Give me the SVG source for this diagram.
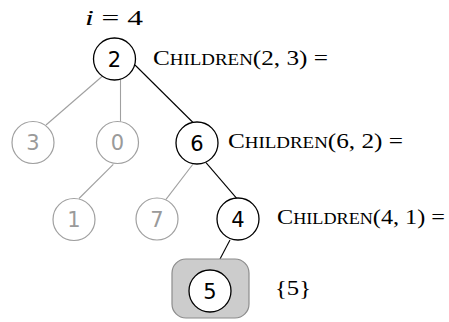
<svg xmlns="http://www.w3.org/2000/svg" width="449" height="322" viewBox="0 0 449 322">
<style>
.blk circle{fill:#fff;stroke:#000;stroke-width:1.3}
.gry circle{fill:#fff;stroke:#a0a0a0;stroke-width:1.2}
.num{font-family:"DejaVu Sans",sans-serif;font-size:21px;text-anchor:middle}
.blk .num{fill:#000}
.gry .num{fill:#9a9a9a}
.lbl{font-family:"Liberation Serif",serif;font-size:22px;fill:#000}
.sc{font-size:16.5px}
.eb{stroke:#000;stroke-width:1.1;fill:none}
.eg{stroke:#a0a0a0;stroke-width:1.1;fill:none}
</style>
<rect width="449" height="322" fill="#fff"/>
<g id="connectors">
<line class="eg" x1="102" y1="76.5" x2="46" y2="125"/>
<line class="eg" x1="120.5" y1="79.5" x2="120.5" y2="121.7"/>
<line class="eb" x1="135" y1="65" x2="193" y2="122.5"/>
<line class="eg" x1="113.3" y1="164.3" x2="79" y2="198.5"/>
<line class="eg" x1="192.7" y1="164.5" x2="166" y2="199.3"/>
<line class="eb" x1="206" y1="162.7" x2="236.7" y2="198.3"/>
<line class="eb" x1="230" y1="240" x2="220" y2="259"/>
</g>
<g id="node-2" class="blk"><circle cx="114.5" cy="59" r="21"/><text class="num" x="114.5" y="66.5">2</text></g>
<g id="node-3" class="gry"><circle cx="33" cy="142.5" r="21"/><text class="num" x="33" y="150">3</text></g>
<g id="node-0" class="gry"><circle cx="117.5" cy="142.5" r="21"/><text class="num" x="117.5" y="150">0</text></g>
<g id="node-6" class="blk"><circle cx="197" cy="143" r="21"/><text class="num" x="197" y="150.5">6</text></g>
<g id="node-1" class="gry"><circle cx="74" cy="219.5" r="21"/><text class="num" x="74" y="227">1</text></g>
<g id="node-7" class="gry"><circle cx="157" cy="219" r="21"/><text class="num" x="157" y="226.5">7</text></g>
<g id="node-4" class="blk"><circle cx="238" cy="219" r="21"/><text class="num" x="238" y="226.5">4</text></g>
<g id="node-5" class="blk"><rect x="172" y="259" width="77" height="59" rx="14" fill="#cccccc" stroke="#8c8c8c" stroke-width="1.2"/><circle cx="210" cy="291" r="21"/><text class="num" x="210" y="298.5">5</text></g>
<g id="labels">
<text class="lbl" x="85" y="25" textLength="58" lengthAdjust="spacingAndGlyphs"><tspan font-style="italic">i</tspan> = 4</text>
<text class="lbl" x="153" y="65" textLength="175" lengthAdjust="spacingAndGlyphs">C<tspan class="sc">HILDREN</tspan>(2, 3) =</text>
<text class="lbl" x="228" y="147.5" textLength="175" lengthAdjust="spacingAndGlyphs">C<tspan class="sc">HILDREN</tspan>(6, 2) =</text>
<text class="lbl" x="277" y="224" textLength="168" lengthAdjust="spacingAndGlyphs">C<tspan class="sc">HILDREN</tspan>(4, 1) =</text>
<text class="lbl" x="275" y="294.5" textLength="36" lengthAdjust="spacingAndGlyphs">{5}</text>
</g>
</svg>
